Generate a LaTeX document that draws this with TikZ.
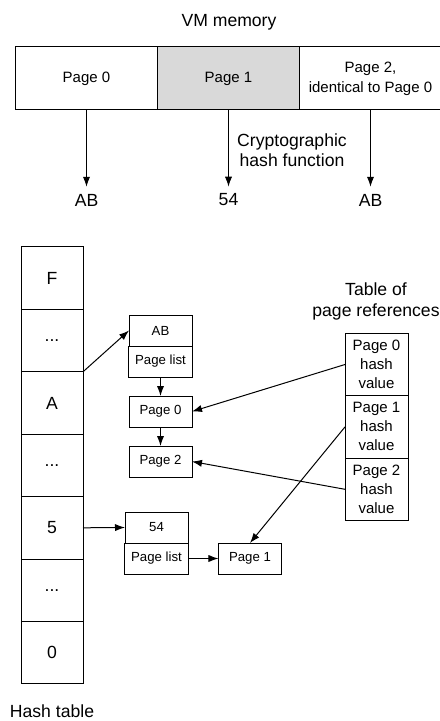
\documentclass[tikz,border=0pt]{standalone}
\usepackage{fontspec}
\setmainfont{Liberation Sans}
\usetikzlibrary{positioning}
\usetikzlibrary{arrows.meta}

\begin{document}
\begin{tikzpicture}[x=0.5pt, y=-0.5pt, line width=0.5pt, >={Latex[length=5pt,width=3.6pt]},
		mem/.style={draw, minimum width=71pt, minimum height=31.5pt, align=center, outer sep=0pt, font=\fontsize{7.5}{10}\selectfont},
		hcell/.style={draw, minimum width=31pt, minimum height=31.2pt, outer sep=0pt, font=\fontsize{8.8}{10.5}\selectfont},
		lbox/.style={draw, minimum width=31.5pt, minimum height=15.5pt, outer sep=0pt, font=\fontsize{6.6}{8}\selectfont},
		rcell/.style={draw, minimum width=31.5pt, minimum height=31.2pt, align=center, inner sep=1pt, outer sep=0pt, font=\fontsize{7.5}{9.5}\selectfont},
		lbl/.style={align=center, font=\fontsize{8.8}{10}\selectfont}]
		
		\useasboundingbox (0,0) rectangle (439,721);
		
		% VM memory
		\node[lbl] (vm) at (229,22) {VM memory};
		\node[mem] (P0) at (86.5,78.5) {Page 0};
		\node[mem, fill=gray!30, right=0pt of P0] (P1) {Page 1};
		\node[mem, right=0pt of P1] (P2) {Page 2,\\identical to Page 0};
		\node[lbl] (v0) at (86.5,200) {AB};
		\node[lbl] (v1) at (228.5,200) {54};
		\node[lbl] (v2) at (370.5,200) {AB};
		\node[lbl] (hf) at (292,150) {Cryptographic\\hash function};
		\draw[->] (P0) -- (v0);
		\draw[->] (P1) -- (v1);
		\draw[->] (P2) -- (v2);
		
		% hash table
		\node[hcell] (hF) at (52,278.2) {F};
		\node[hcell, below=0pt of hF] (hd1) {...};
		\node[hcell, below=0pt of hd1] (hA) {A};
		\node[hcell, below=0pt of hA] (hd2) {...};
		\node[hcell, below=0pt of hd2] (h5) {5};
		\node[hcell, below=0pt of h5] (hd3) {...};
		\node[hcell, below=0pt of hd3] (hz) {0};
		\node[lbl] (ht) at (52,711) {Hash table};
		
		% page lists
		\node[lbox] (ab) at (160.5,330.5) {AB};
		\node[lbox, below=0pt of ab] (pl1) {Page list};
		\node[lbox, below=9.5pt of pl1] (pa0) {Page 0};
		\node[lbox, below=9.5pt of pa0] (pa2) {Page 2};
		\node[lbox] (k54) at (156.5,527.5) {54};
		\node[lbox, below=0pt of k54] (pl2) {Page list};
		\node[lbox, right=15pt of pl2] (pa1) {Page 1};
		
		% table of page references
		\node[lbl, font=\fontsize{8.8}{10.5}\selectfont] (tt) at (376,301) {Table of\\page references};
		\node[rcell] (r0) at (376.5,364.5) {Page 0\\hash\\value};
		\node[rcell, below=0pt of r0] (r1) {Page 1\\hash\\value};
		\node[rcell, below=0pt of r1] (r2) {Page 2\\hash\\value};
		
		\draw[->] (hA.north east) -- (ab.west);
		\draw[->] (h5.east) -- (k54.west);
		\draw[->] (pl1) -- (pa0);
		\draw[->] (pa0) -- (pa2);
		\draw[->] (pl2) -- (pa1);
		\draw[->] (r0.west) -- (pa0.east);
		\draw[->] (r1.west) -- (pa1.north);
		\draw[->] (r2.west) -- (pa2.east);
		\end{tikzpicture}
\end{document}
